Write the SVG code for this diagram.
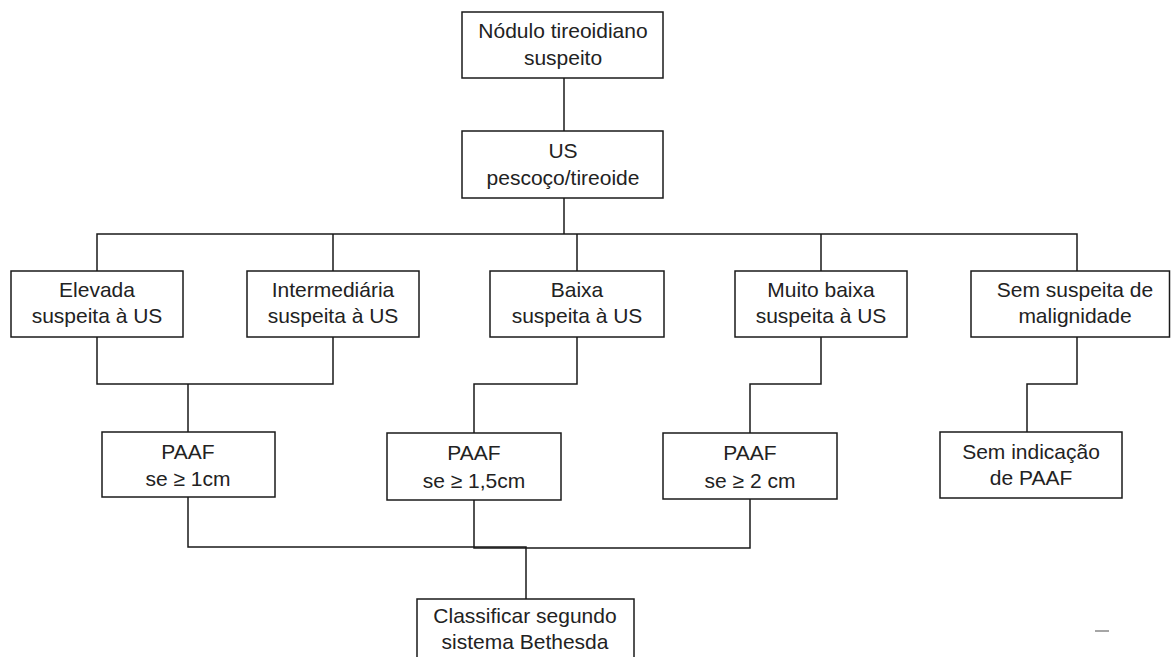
<svg xmlns="http://www.w3.org/2000/svg" width="1171" height="657" viewBox="0 0 1171 657">
<style>
.box{fill:#fff;stroke:#1a1a1a;stroke-width:1.5}
.ln{fill:none;stroke:#1a1a1a;stroke-width:1.5}
text{font-family:"Liberation Sans",Arial,sans-serif;font-size:21px;fill:#222;text-anchor:middle}
</style>
<rect width="1171" height="657" fill="#fff"/>
<g id="connectors">
<path class="ln" d="M564 78V131"/>
<path class="ln" d="M564 198V234"/>
<path class="ln" d="M97 271V234H1077V271"/>
<path class="ln" d="M333 234V271M577 234V271M821 234V271"/>
<path class="ln" d="M97 337V384H333V337M188 384V433"/>
<path class="ln" d="M577 337V384H474V433"/>
<path class="ln" d="M821 337V384H750V433"/>
<path class="ln" d="M1077 337V384H1027V432"/>
<path class="ln" d="M188 497V547H526V599"/>
<path class="ln" d="M474 500V548H750V499"/>
<path d="M1095 631H1109" stroke="#888" stroke-width="1.5"/>
</g>
<g id="n-nodulo"><rect class="box" x="462" y="12" width="201" height="66"/><text x="563" y="38">Nódulo tireoidiano</text><text x="563" y="65">suspeito</text></g>
<g id="n-us"><rect class="box" x="462" y="131" width="201" height="67"/><text x="563" y="158">US</text><text x="563" y="185">pescoço/tireoide</text></g>
<g id="n-elevada"><rect class="box" x="11" y="271" width="172" height="66"/><text x="97" y="297">Elevada</text><text x="97" y="323">suspeita à US</text></g>
<g id="n-intermediaria"><rect class="box" x="247" y="271" width="172" height="66"/><text x="333" y="297">Intermediária</text><text x="333" y="323">suspeita à US</text></g>
<g id="n-baixa"><rect class="box" x="490" y="271" width="174" height="66"/><text x="577" y="297">Baixa</text><text x="577" y="323">suspeita à US</text></g>
<g id="n-muitobaixa"><rect class="box" x="735" y="271" width="172" height="66"/><text x="821" y="297">Muito baixa</text><text x="821" y="323">suspeita à US</text></g>
<g id="n-semsuspeita"><rect class="box" x="971" y="271" width="198.5" height="66"/><text x="1075" y="297">Sem suspeita de</text><text x="1075" y="323">malignidade</text></g>
<g id="n-paaf1"><rect class="box" x="102" y="432" width="173" height="65"/><text x="188" y="459">PAAF</text><text x="188" y="486">se ≥ 1cm</text></g>
<g id="n-paaf15"><rect class="box" x="387" y="433" width="174" height="67"/><text x="474" y="460">PAAF</text><text x="474" y="488">se ≥ 1,5cm</text></g>
<g id="n-paaf2"><rect class="box" x="663" y="433" width="174" height="66"/><text x="750" y="460">PAAF</text><text x="750" y="488">se ≥ 2 cm</text></g>
<g id="n-semindicacao"><rect class="box" x="940" y="432" width="182" height="66"/><text x="1031" y="459">Sem indicação</text><text x="1031" y="485">de PAAF</text></g>
<g id="n-classificar"><rect class="box" x="417" y="599" width="217" height="70"/><text x="525" y="623">Classificar segundo</text><text x="525" y="649">sistema Bethesda</text></g>
</svg>
